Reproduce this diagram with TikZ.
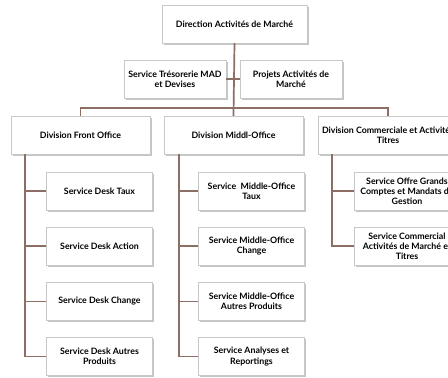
\documentclass[tikz,border=0pt]{standalone}
\usepackage{fontspec}
\setmainfont{Lato}
\usepackage{tikz}
\usetikzlibrary{positioning, calc, shadows}
\definecolor{orgbrown}{RGB}{140, 110, 100}
\definecolor{orgframe}{RGB}{200, 200, 200}
\tikzset{
    orgbox/.style={rectangle, draw=orgframe, fill=white, align=center, inner sep=1pt,
        drop shadow={shadow xshift=1.5pt, shadow yshift=-1.5pt, fill=black!45},
        font=\fontsize{8.8pt}{10.2pt}\selectfont\bfseries},
    link/.style={draw=orgbrown, line width=1.7pt}
}

\begin{document}
\begin{tikzpicture}[
    x=1pt, y=-1pt,
    top/.style={orgbox, minimum width=145pt, minimum height=38pt},
    staff/.style={orgbox, minimum width=102pt, minimum height=38pt},
    division/.style={orgbox, minimum width=139pt, minimum height=38pt},
    service/.style={orgbox, minimum width=106pt, minimum height=38pt}
]
    \clip (0,0) rectangle (448,378);
    \fill[white] (0,0) rectangle (448,378);

    % Direction and staff units
    \node[top] (dir) at (234.5, 24) {Direction Activités de Marché};
    \node[staff] (treso) at (175, 79) {Service Trésorerie MAD\\et Devises};
    \node[staff] (projets) at (291, 79) {Projets Activités de\\Marché};

    % Divisions
    \node[division] (front) at (80.5, 135) {Division Front Office};
    \node[division] (middle) at (233.5, 135) {Division Middl-Office};
    \node[division] (comm) at (388, 135) {Division Commerciale et Activités\\Titres};

    % Front Office services
    \node[service] (fdtaux) at (99.5, 191) {Service Desk Taux};
    \node[service] (fdaction) at (99.5, 246) {Service Desk Action};
    \node[service] (fdchange) at (99.5, 301.5) {Service Desk Change};
    \node[service] (fdautres) at (99.5, 356.5) {Service Desk Autres\\Produits};

    % Middle Office services
    \node[service] (motaux) at (251.5, 191) {Service~~Middle-Office\\Taux};
    \node[service] (mochange) at (251.5, 246) {Service Middle-Office\\Change};
    \node[service] (moautres) at (251.5, 301.5) {Service Middle-Office\\Autres Produits};
    \node[service] (moanalyses) at (251.5, 356.5) {Service Analyses et\\Reportings};

    % Commercial services
    \node[service] (cogrands) at (407, 191) {Service Offre Grands\\Comptes et Mandats de\\Gestion};
    \node[service] (cocomm) at (407, 246) {Service Commercial\\Activités de Marché et\\Titres};

    % Connectors
    \coordinate (bus) at (234, 108);
    \draw[link] (dir.south) -- (middle.north);
    \draw[link] (treso.east) -- (projets.west);
    \draw[link] (front.north) |- (bus) -| (comm.north);

    \coordinate (fo) at ([xshift=14pt]front.south west);
    \coordinate (mo) at ([xshift=15pt]middle.south west);
    \coordinate (co) at ([xshift=14pt]comm.south west);
    \foreach \n in {fdtaux, fdaction, fdchange, fdautres}
        \draw[link] (fo) |- (\n.west);
    \foreach \n in {motaux, mochange, moautres, moanalyses}
        \draw[link] (mo) |- (\n.west);
    \foreach \n in {cogrands, cocomm}
        \draw[link] (co) |- (\n.west);

\end{tikzpicture}
\end{document}
